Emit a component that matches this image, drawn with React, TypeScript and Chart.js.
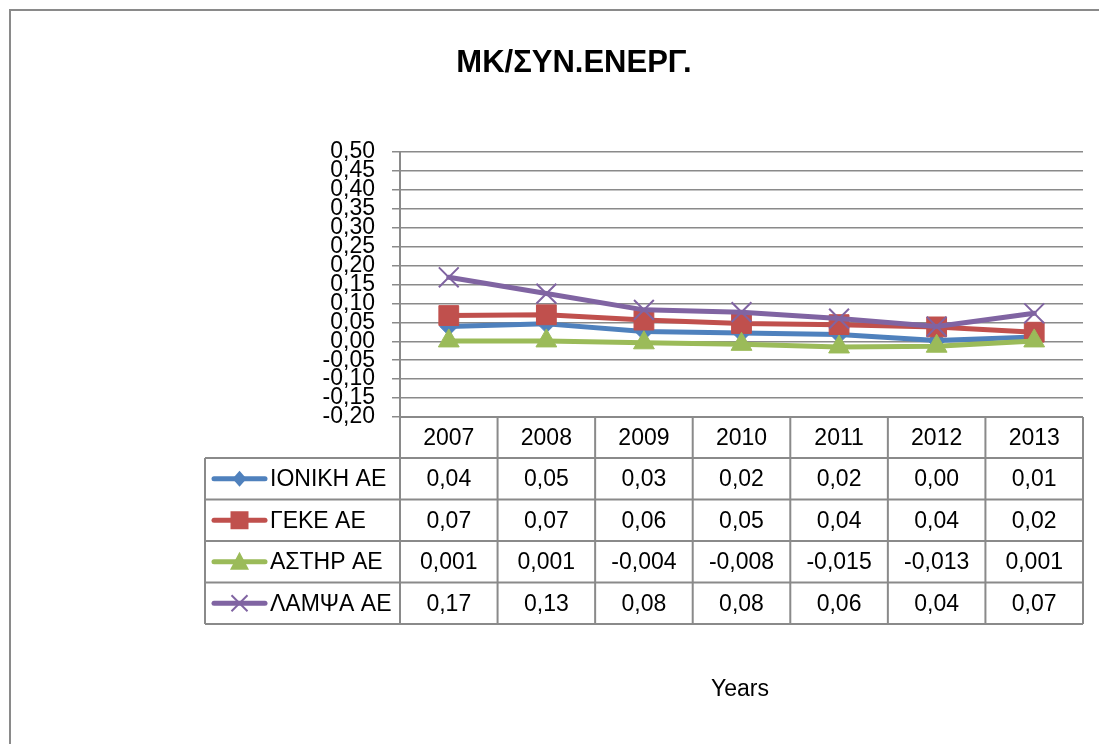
import React, { useEffect, useRef } from 'react';
import { Chart, registerables } from 'chart.js';

Chart.register(...registerables);

// ---- data ----
const categories = ['2007', '2008', '2009', '2010', '2011', '2012', '2013'];
const seriesNames = ['ΙΟΝΙΚΗ ΑΕ', 'ΓΕΚΕ ΑΕ', 'ΑΣΤΗΡ ΑΕ', 'ΛΑΜΨΑ ΑΕ'];
const ionikh = [0.039, 0.046, 0.026, 0.022, 0.018, 0.002, 0.011];
const geke = [0.068, 0.07, 0.056, 0.047, 0.044, 0.038, 0.024];
const asthr = [0.001, 0.001, -0.004, -0.008, -0.015, -0.013, 0.001];
const lampsa = [0.169, 0.126, 0.083, 0.077, 0.06, 0.039, 0.074];
const tableDecimals = [2, 2, 3, 2];
const yTicks = [-0.2, -0.15, -0.1, -0.05, 0, 0.05, 0.1, 0.15, 0.2, 0.25, 0.3, 0.35, 0.4, 0.45, 0.5];
const chartTitle = 'ΜΚ/ΣΥΝ.ΕΝΕΡΓ.';
const xTitle = 'Years';

const seriesData = [ionikh, geke, asthr, lampsa];
const colors = ['#4F81BD', '#C0504D', '#9BBB59', '#8064A2'];
const pointStyles = ['rectRot', 'rect', 'triangle', 'crossRot'];
const pointRadii = [9, 14, 12, 14];
const GRID = '#8a8a8a';
const FONT = "'Liberation Sans', Arial, sans-serif";

const fmt = (v: number, d: number) => {
  const s = Math.abs(v).toFixed(d).replace('.', ',');
  return (v < 0 ? '-' : '') + s;
};

function drawMarker(ctx: CanvasRenderingContext2D, style: string, x: number, y: number, color: string) {
  ctx.save();
  ctx.fillStyle = color;
  ctx.strokeStyle = color;
  ctx.beginPath();
  if (style === 'rectRot') {
    ctx.moveTo(x, y - 8);
    ctx.lineTo(x + 7, y);
    ctx.lineTo(x, y + 8);
    ctx.lineTo(x - 7, y);
    ctx.closePath();
    ctx.fill();
  } else if (style === 'rect') {
    ctx.rect(x - 9, y - 9, 18, 18);
    ctx.fill();
  } else if (style === 'triangle') {
    ctx.moveTo(x, y - 10);
    ctx.lineTo(x + 9.5, y + 8);
    ctx.lineTo(x - 9.5, y + 8);
    ctx.closePath();
    ctx.fill();
  } else {
    ctx.lineWidth = 2;
    ctx.moveTo(x - 8, y - 8);
    ctx.lineTo(x + 8, y + 8);
    ctx.moveTo(x + 8, y - 8);
    ctx.lineTo(x - 8, y + 8);
    ctx.stroke();
  }
  ctx.restore();
}

const decorPlugin = {
  id: 'decor',
  beforeDraw(chart: any) {
    const ctx = chart.ctx as CanvasRenderingContext2D;
    ctx.save();
    ctx.fillStyle = '#ffffff';
    ctx.fillRect(0, 0, chart.width, chart.height);
    ctx.restore();
  },
  afterDraw(chart: any) {
    const ctx = chart.ctx as CanvasRenderingContext2D;
    const { left, right, bottom } = chart.chartArea;
    const n = categories.length;
    const colW = (right - left) / n;
    const headerTop = bottom;
    const headerH = 41;
    const rowH = 41.5;
    const legendLeft = 205;
    const tableBottom = headerTop + headerH + rowH * seriesNames.length;

    ctx.save();
    // outer chart border
    ctx.strokeStyle = GRID;
    ctx.lineWidth = 2;
    ctx.beginPath();
    ctx.moveTo(10, chart.height + 2);
    ctx.lineTo(10, 10);
    ctx.lineTo(chart.width + 2, 10);
    ctx.stroke();

    // title
    ctx.fillStyle = '#000';
    ctx.textAlign = 'center';
    ctx.textBaseline = 'alphabetic';
    ctx.font = `bold 31px ${FONT}`;
    ctx.fillText(chartTitle, 574, 72);

    // x title
    ctx.font = `23px ${FONT}`;
    ctx.textBaseline = 'middle';
    ctx.fillText(xTitle, 740, 690);

    // table grid
    ctx.strokeStyle = GRID;
    ctx.lineWidth = 2;
    ctx.beginPath();
    for (let i = 0; i <= n; i++) {
      const x = left + i * colW;
      ctx.moveTo(x, headerTop);
      ctx.lineTo(x, tableBottom);
    }
    ctx.moveTo(left, headerTop);
    ctx.lineTo(right, headerTop);
    ctx.moveTo(legendLeft, headerTop + headerH);
    ctx.lineTo(legendLeft, tableBottom);
    for (let r = 0; r <= seriesNames.length; r++) {
      const y = headerTop + headerH + r * rowH;
      ctx.moveTo(legendLeft, y);
      ctx.lineTo(right, y);
    }
    ctx.stroke();

    // header text
    ctx.fillStyle = '#000';
    ctx.font = `23px ${FONT}`;
    ctx.textAlign = 'center';
    ctx.textBaseline = 'middle';
    const xs = chart.scales.x;
    categories.forEach((c, i) => {
      ctx.fillText(c, xs.getPixelForValue(i), headerTop + headerH / 2 + 1);
    });

    // rows
    seriesNames.forEach((name, r) => {
      const cy = headerTop + headerH + r * rowH + rowH / 2;
      // legend key
      ctx.save();
      ctx.strokeStyle = colors[r];
      ctx.lineWidth = 5;
      ctx.lineCap = 'round';
      ctx.beginPath();
      ctx.moveTo(214, cy);
      ctx.lineTo(265, cy);
      ctx.stroke();
      ctx.restore();
      drawMarker(ctx, pointStyles[r], 239.5, cy, colors[r]);
      ctx.fillStyle = '#000';
      ctx.textAlign = 'left';
      ctx.fillText(name, 270, cy + 1);
      ctx.textAlign = 'center';
      seriesData[r].forEach((v, i) => {
        ctx.fillText(fmt(v, tableDecimals[r]), xs.getPixelForValue(i), cy + 1);
      });
    });
    ctx.restore();
  },
};

export default function App() {
  const ref = useRef<HTMLCanvasElement | null>(null);
  useEffect(() => {
    if (!ref.current) return;
    const order = [3, 2, 1, 0];
    const chart = new Chart(ref.current, {
      type: 'line',
      data: {
        labels: categories,
        datasets: seriesNames.map((name, i) => ({
          label: name,
          data: seriesData[i],
          borderColor: colors[i],
          backgroundColor: colors[i],
          borderWidth: 5,
          borderCapStyle: 'round',
          borderJoinStyle: 'round',
          tension: 0,
          fill: false,
          pointStyle: pointStyles[i] as any,
          pointRadius: pointRadii[i],
          pointBorderWidth: i === 3 ? 2 : 1,
          pointBorderColor: colors[i],
          pointBackgroundColor: colors[i],
          order: order[i],
        })),
      },
      options: {
        animation: false,
        responsive: false,
        layout: { padding: { left: 0, right: 7, top: 152, bottom: 327 } },
        plugins: {
          legend: { display: false },
          title: { display: false },
          tooltip: { enabled: false },
        },
        scales: {
          x: { type: 'category', offset: true, display: false },
          y: {
            min: -0.2,
            max: 0.5,
            afterFit: (s: any) => {
              s.width = 400;
            },
            afterBuildTicks: (s: any) => {
              s.ticks = yTicks.map((v) => ({ value: v }));
            },
            ticks: {
              autoSkip: false,
              padding: 17,
              color: '#000',
              font: { family: FONT, size: 23 },
              callback: (v: any) => fmt(Number(v), 2),
            },
            grid: { color: GRID, lineWidth: 1.5, tickLength: 8, drawTicks: true },
            border: { color: GRID, width: 2 },
          },
        },
      },
      plugins: [decorPlugin],
    });
    return () => chart.destroy();
  }, []);
  return (
    <div style={{ position: 'fixed', left: 0, top: 0, width: 1099, height: 744, background: '#fff' }}>
      <canvas ref={ref} width={1099} height={744} style={{ display: 'block' }} />
    </div>
  );
}
